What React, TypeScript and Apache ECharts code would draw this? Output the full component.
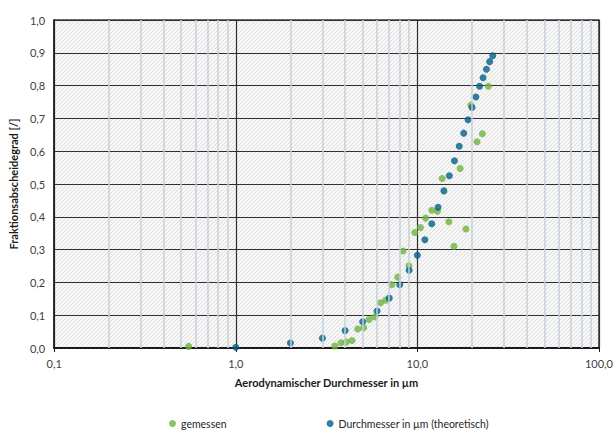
import React, { useEffect, useRef } from "react";
import * as echarts from "echarts";

// Gemessener Fraktionsabscheidegrad: [Durchmesser in µm, Abscheidegrad]
const measuredDiameter = [
  0.55, 3.51, 3.8, 4.06, 4.37, 4.69, 5.06, 5.43, 5.84, 6.27, 6.7, 7.23, 7.8,
  8.34, 8.99, 9.67, 10.4, 11.1, 12.0, 12.9, 13.7, 14.9, 15.9, 17.2, 18.5, 19.7,
  21.3, 22.8, 24.6,
];
const measuredGrade = [
  0.005, 0.006, 0.016, 0.018, 0.023, 0.058, 0.062, 0.087, 0.095, 0.138, 0.146,
  0.193, 0.216, 0.296, 0.251, 0.352, 0.367, 0.396, 0.42, 0.417, 0.517, 0.385,
  0.31, 0.547, 0.363, 0.741, 0.629, 0.653, 0.798,
];

// Theoretische Kurve
const theoryDiameter = [
  1, 2, 3, 4, 5, 6, 7, 8, 9, 10, 11, 12, 13, 14, 15, 16, 17, 18, 19, 20, 21,
  22, 23, 24, 25, 26,
];
const theoryGrade = [
  0.002, 0.015, 0.03, 0.053, 0.08, 0.113, 0.152, 0.193, 0.237, 0.283, 0.33,
  0.379, 0.429, 0.479, 0.525, 0.571, 0.615, 0.655, 0.696, 0.733, 0.765, 0.798,
  0.824, 0.85, 0.873, 0.891,
];

// Zwischenlinien der logarithmischen Achse
const minorGridX = [
  0.2, 0.3, 0.4, 0.5, 0.6, 0.7, 0.8, 0.9, 2, 3, 4, 5, 6, 7, 8, 9, 20, 30, 40,
  50, 60, 70, 80, 90,
];

const seriesNames = ["gemessen", "Durchmesser in µm (theoretisch)"];

const FONT = "Lato, 'Open Sans', sans-serif";

function hatchTile(): string {
  const size = 4;
  const c = document.createElement("canvas");
  c.width = size;
  c.height = size;
  const ctx = c.getContext("2d");
  if (!ctx) return "";
  ctx.fillStyle = "#f7f7f7";
  ctx.fillRect(0, 0, size, size);
  ctx.fillStyle = "#dedede";
  for (let y = 0; y < size; y++) {
    for (let x = 0; x < size; x++) {
      if ((x + y) % size === size - 1) ctx.fillRect(x, y, 1, 1);
    }
  }
  return c.toDataURL("image/png");
}

const comma = (v: number) => v.toFixed(1).replace(".", ",");

export default function App() {
  const ref = useRef<HTMLDivElement>(null);

  useEffect(() => {
    if (!ref.current) return;
    const chart = echarts.init(ref.current, null, { renderer: "svg" });
    const tile = hatchTile();

    chart.setOption({
      animation: false,
      backgroundColor: "#ffffff",
      textStyle: { fontFamily: FONT },
      grid: {
        left: 53,
        top: 20,
        right: 15,
        bottom: 82,
        show: true,
        borderColor: "#3a3a3a",
        borderWidth: 1.5,
        backgroundColor: tile
          ? { image: tile, repeat: "repeat", imageWidth: 4, imageHeight: 4 }
          : "#ececec",
      },
      legend: {
        left: 164,
        top: 413,
        itemWidth: 7,
        itemHeight: 7,
        itemGap: 100,
        icon: "circle",
        textStyle: { fontFamily: FONT, fontSize: 10.5, color: "#262626" },
        data: seriesNames,
      },
      xAxis: {
        type: "log",
        logBase: 10,
        min: 0.1,
        max: 100,
        name: "Aerodynamischer Durchmesser in µm",
        nameLocation: "middle",
        nameGap: 29,
        nameTextStyle: {
          fontFamily: FONT,
          fontSize: 11,
          fontWeight: "bold",
          color: "#1a1a1a",
        },
        axisLine: { show: true, lineStyle: { color: "#1a1a1a", width: 2 } },
        axisTick: { show: true, length: 4, lineStyle: { color: "#1a1a1a" } },
        axisLabel: {
          formatter: comma,
          fontSize: 11,
          color: "#404040",
          margin: 10,
          fontFamily: FONT,
        },
        splitLine: { show: true, lineStyle: { color: "#303030", width: 1.2 } },
        minorTick: { show: false },
      },
      yAxis: {
        type: "value",
        min: 0,
        max: 1,
        interval: 0.1,
        name: "Fraktionsabscheidegrad [/]",
        nameLocation: "middle",
        nameRotate: 90,
        nameGap: 34,
        nameTextStyle: {
          fontFamily: FONT,
          fontSize: 11,
          fontWeight: "bold",
          color: "#1a1a1a",
        },
        axisLine: { show: true, lineStyle: { color: "#1a1a1a", width: 1.5 } },
        axisTick: { show: false },
        axisLabel: {
          formatter: comma,
          fontSize: 11,
          color: "#404040",
          margin: 9,
          fontFamily: FONT,
        },
        splitLine: { show: true, lineStyle: { color: "#303030", width: 1.2 } },
      },
      series: [
        {
          type: "scatter",
          name: "minor",
          data: [],
          z: 1,
          silent: true,
          markLine: {
            silent: true,
            symbol: ["none", "none"],
            label: { show: false },
            lineStyle: { color: "#c7cfd9", width: 1.5, type: "solid" },
            data: minorGridX.map((v) => ({ xAxis: v })),
          },
        },
        {
          type: "scatter",
          name: seriesNames[0],
          symbolSize: 7,
          itemStyle: { color: "#6db33f" },
          data: measuredDiameter.map((d, i) => [d, measuredGrade[i]]),
          z: 3,
        },
        {
          type: "scatter",
          name: seriesNames[1],
          symbolSize: 7,
          itemStyle: { color: "#005f87" },
          data: theoryDiameter.map((d, i) => [d, theoryGrade[i]]),
          z: 4,
        },
      ],
    });

    return () => chart.dispose();
  }, []);

  return (
    <div
      ref={ref}
      style={{ position: "fixed", left: 0, top: 0, width: 616, height: 430 }}
    />
  );
}
